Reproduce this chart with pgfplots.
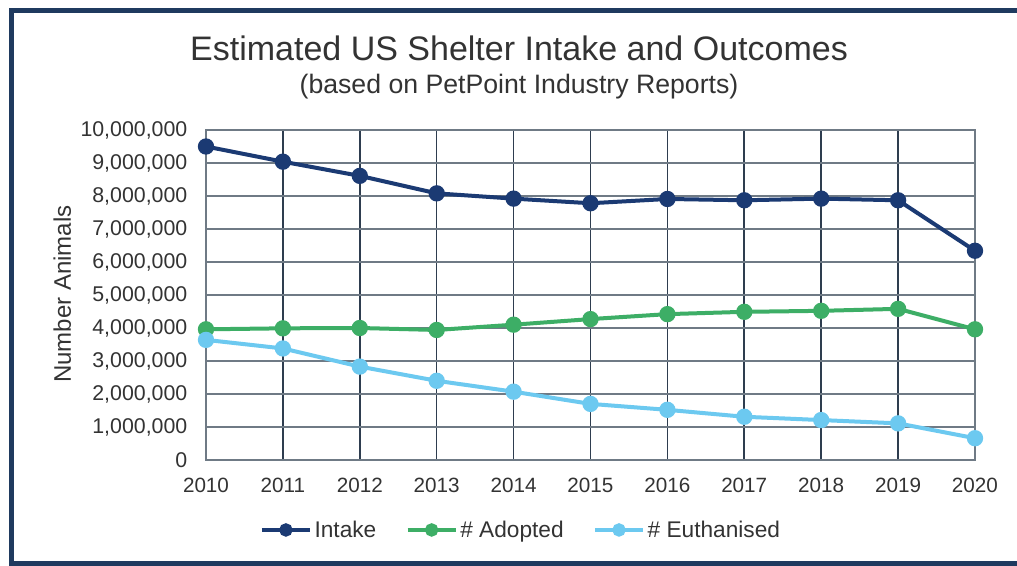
\documentclass[border=0pt]{standalone}
\usepackage{pgfplots}
\pgfplotsset{compat=1.18}
\usepackage{fontspec}
\setmainfont{Liberation Sans}
\definecolor{framec}{HTML}{1F3A5F}
\definecolor{intakec}{HTML}{1B3A73}
\definecolor{adoptc}{HTML}{3DAE66}
\definecolor{euthc}{HTML}{6CC9F0}
\definecolor{txtc}{HTML}{333333}
\definecolor{vgrid}{HTML}{2E3D4F}
\definecolor{hgrid}{HTML}{6F7A85}
\begin{document}
\begin{tikzpicture}
\begin{scope}[x=0.75pt,y=0.75pt]
\useasboundingbox (0,0) rectangle (1017,566);
\fill[white] (0,0) rectangle (1017,566);
\draw[framec, line width=3.75pt] (1030,2) -- (11.5,2) -- (11.5,555.5) -- (1030,555.5);
\node[text=txtc, font=\fontsize{25.5}{30}\selectfont] at (519,518) {Estimated US Shelter Intake and Outcomes};
\node[text=txtc, font=\fontsize{20}{24}\selectfont] at (519,479) {(based on PetPoint Industry Reports)};
\end{scope}
\begin{axis}[
  at={(154.5pt,79.5pt)}, anchor=south west,
  scale only axis, width=576.75pt, height=247.5pt,
  xmin=2010, xmax=2020, ymin=0, ymax=10000000,
  xtick={2010,...,2020}, ytick distance=1000000,
  scaled ticks=false,
  major tick length=0pt,
  grid=major,
  every axis x grid/.style={vgrid, line width=1.2pt},
  every axis y grid/.style={hgrid, line width=1pt},
  axis line style={hgrid, line width=1pt},
  /pgf/number format/assume math mode=true,
  xticklabel style={font=\fontsize{15.5}{18}\selectfont, text=txtc, yshift=-10pt, /pgf/number format/1000 sep={}},
  yticklabel style={font=\fontsize{16}{18}\selectfont, text=txtc, xshift=-10.5pt, /pgf/number format/.cd, fixed, 1000 sep={,}, assume math mode=true},
  ylabel={Number Animals},
  ylabel style={at={(axis description cs:-0.187,0.503)}, anchor=center, font=\fontsize{18}{21}\selectfont, text=txtc},
  legend columns=3,
  legend style={at={(axis description cs:0.41,-0.212)}, anchor=center, draw=none, fill=none,
    font=\fontsize{17}{19}\selectfont, text=txtc,
    /tikz/every even column/.append style={column sep=20pt},
    nodes={inner xsep=2pt}},
  legend image code/.code={
    \draw[mark repeat=2, mark phase=2, mark size=3.5pt] plot coordinates {(0pt,0pt) (18pt,0pt) (36pt,0pt)};
  },
  every axis plot/.append style={line width=3pt, mark=*, mark size=4.6pt},
]
\addplot[intakec, mark options={fill=intakec, draw=intakec}] coordinates {
(2010,9500000) (2011,9040000) (2012,8610000) (2013,8080000) (2014,7920000) (2015,7780000)
(2016,7910000) (2017,7870000) (2018,7920000) (2019,7870000) (2020,6340000)};
\addlegendentry{Intake}
\addplot[adoptc, mark options={fill=adoptc, draw=adoptc}] coordinates {
(2010,3960000) (2011,3990000) (2012,4000000) (2013,3940000) (2014,4100000) (2015,4270000)
(2016,4420000) (2017,4490000) (2018,4520000) (2019,4580000) (2020,3960000)};
\addlegendentry{\# Adopted}
\addplot[euthc, mark options={fill=euthc, draw=euthc}] coordinates {
(2010,3640000) (2011,3380000) (2012,2830000) (2013,2400000) (2014,2070000) (2015,1700000)
(2016,1520000) (2017,1310000) (2018,1210000) (2019,1110000) (2020,660000)};
\addlegendentry{\# Euthanised}
\end{axis}
\end{tikzpicture}
\end{document}
